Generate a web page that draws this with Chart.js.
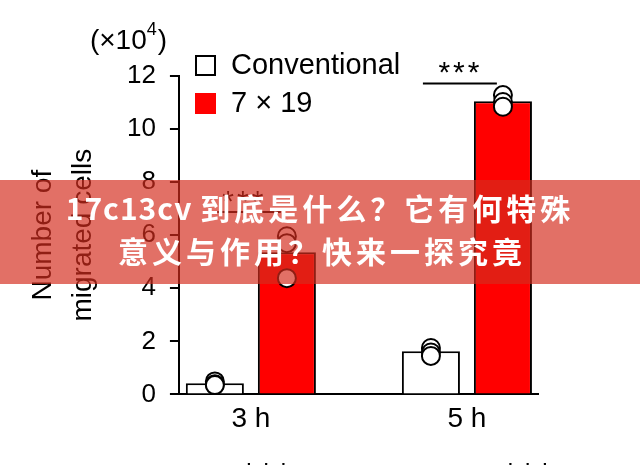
<!DOCTYPE html>
<html>
<head>
<meta charset="utf-8">
<script src="https://cdn.jsdelivr.net/npm/chart.js@4/dist/chart.umd.min.js"></script>
<style>
html,body{margin:0;padding:0;background:#fff;}
#wrap{width:640px;height:465px;}
</style>
</head>
<body>
<div id="wrap"><canvas id="c" width="640" height="465"></canvas></div>
<script>
// ---- data ----
const categories = ['3 h', '5 h'];
const seriesNames = ['Conventional', '7 \u00d7 19'];
const conventional = [0.42, 1.63];
const sevenBy19 = [5.36, 11.05];
const conventionalPoints = [[0.49, 0.38, 0.35], [1.75, 1.58, 1.45]];
const sevenBy19Points = [[5.96, 5.7, 4.38], [11.28, 11.02, 10.84]];
const yTicks = [0, 2, 4, 6, 8, 10, 12];
const sigLabels = ['***', '***'];
const sigLevels = [6.87, 11.72];
const yTitle = ['Number of', 'migrated cells'];
const yUnit = ['(\u00d710', '4', ')'];
const bannerLatin = '17c13cv ';
const bannerLines = ['\u5230\u5e95\u662f\u4ec0\u4e48\uff1f\u5b83\u6709\u4f55\u7279\u6b8a', '\u610f\u4e49\u4e0e\u4f5c\u7528\uff1f\u5feb\u6765\u4e00\u63a2\u7a76\u7adf'];

const FONT = '"Liberation Sans", Arial, Helvetica, sans-serif';
const catPct = 2 / 3;
const barOff = catPct / 4; // offset of each bar center from category center (value units)

function pts(arr, sign) {
  const out = [];
  arr.forEach((vals, i) => vals.forEach(v => out.push({x: i + sign * barOff, y: v})));
  return out;
}

const overlay = {
  id: 'overlay',
  afterDraw(chart) {
    const ctx = chart.ctx;
    const xs = chart.scales.x, ys = chart.scales.y;
    const ca = chart.chartArea;
    ctx.save();
    // significance marks
    sigLabels.forEach((lab, i) => {
      const yPix = ys.getPixelForValue(sigLevels[i]);
      const x1 = xs.getPixelForValue(i - barOff - 0.037);
      const x2 = xs.getPixelForValue(i + barOff - 0.028);
      ctx.strokeStyle = '#000';
      ctx.lineWidth = 2;
      ctx.beginPath();
      ctx.moveTo(x1, yPix);
      ctx.lineTo(x2, yPix);
      ctx.stroke();
      ctx.fillStyle = '#000';
      ctx.font = '30px ' + FONT;
      ctx.letterSpacing = '3px';
      ctx.textAlign = 'center';
      ctx.textBaseline = 'alphabetic';
      ctx.fillText(lab, xs.getPixelForValue(i - 0.03), yPix - 1);
    });
    // cut-off stars at bottom (from a panel below, mostly outside the picture)
    ctx.font = '34px ' + FONT;
    ctx.letterSpacing = '4px';
    ctx.fillText('***', xs.getPixelForValue(0.08), chart.height + 21);
    ctx.fillText('***', xs.getPixelForValue(1.29), chart.height + 21);
    ctx.letterSpacing = '0px';
    // unit label
    ctx.textAlign = 'left';
    ctx.textBaseline = 'middle';
    ctx.font = '28px ' + FONT;
    let ux = ca.left - 89;
    ctx.fillText(yUnit[0], ux, 41);
    ux += ctx.measureText(yUnit[0]).width;
    ctx.font = '18px ' + FONT;
    ctx.fillText(yUnit[1], ux, 30);
    ux += ctx.measureText(yUnit[1]).width + 1;
    ctx.font = '28px ' + FONT;
    ctx.fillText(yUnit[2], ux, 41);
    // legend (bar datasets)
    const bars = chart.data.datasets.filter(d => d.type !== 'scatter');
    bars.forEach((d, k) => {
      const cy = 65 + k * 38;
      ctx.fillStyle = d.backgroundColor;
      ctx.fillRect(195, cy - 10, 21, 21);
      ctx.strokeStyle = '#000';
      ctx.lineWidth = 2;
      if (k === 0) ctx.strokeRect(196, cy - 9, 19, 19);
      ctx.fillStyle = '#000';
      ctx.font = '29px ' + FONT;
      ctx.fillText(d.label, 231, cy + 1);
    });
    // banner
    ctx.fillStyle = 'rgba(212,44,30,0.68)';
    ctx.fillRect(0, 180, chart.width, 104);
    ctx.fillStyle = '#fff';
    const bf = 'bold 30px "Noto Sans CJK SC", sans-serif';
    ctx.font = bf;
    ctx.textBaseline = 'middle';
    ctx.textAlign = 'left';
    ctx.letterSpacing = '1px';
    const wL = ctx.measureText(bannerLatin).width;
    ctx.letterSpacing = '4px';
    const w1 = ctx.measureText(bannerLines[0]).width;
    const start1 = 320 - (wL + w1) / 2;
    ctx.letterSpacing = '1px';
    ctx.fillText(bannerLatin, start1, 209);
    ctx.letterSpacing = '4px';
    ctx.fillText(bannerLines[0], start1 + wL, 209);
    ctx.textAlign = 'center';
    ctx.fillText(bannerLines[1], 322, 252);
    ctx.restore();
  }
};

new Chart(document.getElementById('c'), {
  type: 'bar',
  data: {
    datasets: [
      {
        type: 'scatter', label: 'pts1', data: pts(conventionalPoints, -1), order: 0,
        pointRadius: 9, pointBorderWidth: 2, pointBackgroundColor: '#fff', pointBorderColor: '#000'
      },
      {
        type: 'scatter', label: 'pts2', data: pts(sevenBy19Points, 1), order: 0,
        pointRadius: 9, pointBorderWidth: 2, pointBackgroundColor: '#fff', pointBorderColor: '#000'
      },
      {
        label: seriesNames[0], data: conventional.map((v, i) => ({x: i, y: v})), order: 1,
        backgroundColor: '#ffffff', borderColor: '#000', borderWidth: 2,
        categoryPercentage: catPct, barPercentage: 0.806
      },
      {
        label: seriesNames[1], data: sevenBy19.map((v, i) => ({x: i, y: v})), order: 1,
        backgroundColor: '#ff0000', borderColor: '#000', borderWidth: 2,
        categoryPercentage: catPct, barPercentage: 0.806
      }
    ]
  },
  options: {
    responsive: false,
    animation: false,
    devicePixelRatio: 1,
    layout: {padding: {left: 23, right: 102, top: 76, bottom: 21}},
    plugins: {legend: {display: false}, tooltip: {enabled: false}},
    scales: {
      x: {
        type: 'linear',
        offset: false,
        min: -0.333, max: 1.329,
        afterBuildTicks: s => { s.ticks = categories.map((c, i) => ({value: i})); },
        ticks: {
          callback: v => categories[v],
          color: '#000', font: {size: 28, family: FONT}, padding: 8,
          autoSkip: false, maxRotation: 0
        },
        grid: {display: false, drawTicks: false, offset: false},
        border: {display: true, color: '#000', width: 2}
      },
      y: {
        min: 0, max: 12,
        afterBuildTicks: s => { s.ticks = yTicks.map(v => ({value: v})); },
        ticks: {color: '#000', font: {size: 26, family: FONT}, padding: 14},
        grid: {drawOnChartArea: false, drawTicks: true, tickLength: 9, color: '#000', lineWidth: 2},
        border: {display: true, color: '#000', width: 2},
        title: {
          display: true, text: yTitle, color: '#000',
          font: {size: 28, family: FONT, lineHeight: 1.4286},
          padding: {top: 0, bottom: 10}
        }
      }
    }
  },
  plugins: [overlay]
});
</script>
</body>
</html>
